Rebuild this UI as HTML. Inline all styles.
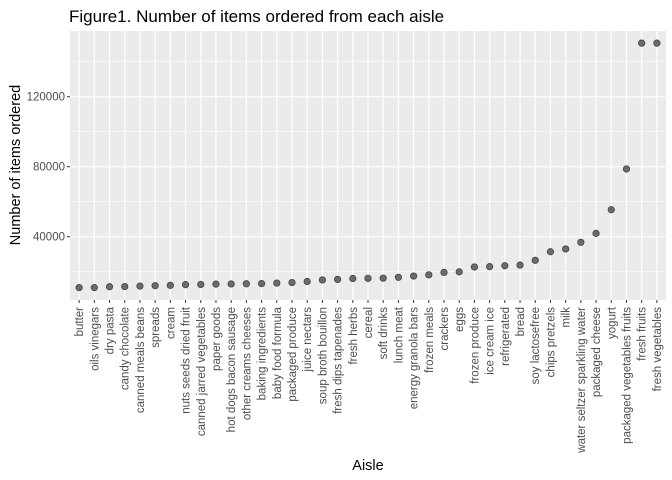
<!DOCTYPE html>
<html><head><meta charset="utf-8">
<style>
html,body{margin:0;padding:0;background:#fff;}
svg{display:block;font-family:"Liberation Sans",Arial,sans-serif;}
</style></head>
<body>
<svg id="chart" width="672" height="480" viewBox="0 0 672 480" xmlns="http://www.w3.org/2000/svg">
<text x="69" y="22" font-size="17" fill="#000">Figure1. Number of items ordered from each aisle</text>
<rect x="70" y="31" width="596" height="269" fill="#ebebeb"/>
<g id="grid"></g>
<g id="yaxis"></g>
<g id="xaxis"></g>
<g id="points"></g>
<text x="368" y="470" font-size="14.5" text-anchor="middle" fill="#000">Aisle</text>
<text transform="translate(20,165) rotate(-90)" font-size="14.5" text-anchor="middle" fill="#000">Number of items ordered</text>
</svg>
<script>
const categories = ["butter","oils vinegars","dry pasta","candy chocolate","canned meals beans","spreads","cream","nuts seeds dried fruit","canned jarred vegetables","paper goods","hot dogs bacon sausage","other creams cheeses","baking ingredients","baby food formula","packaged produce","juice nectars","soup broth bouillon","fresh dips tapenades","fresh herbs","cereal","soft drinks","lunch meat","energy granola bars","frozen meals","crackers","eggs","frozen produce","ice cream ice","refrigerated","bread","soy lactosefree","chips pretzels","milk","water seltzer sparkling water","packaged cheese","yogurt","packaged vegetables fruits","fresh fruits","fresh vegetables"];
const itemCounts = [10900,10900,11400,11500,11800,12000,12200,12600,12700,12900,13000,13100,13200,13500,13800,14400,15300,15600,16100,16200,16300,16800,17500,18200,19600,19900,22700,22900,23400,23800,26500,31400,33000,36800,41900,55400,78700,150600,150600];
const yTicks = [40000,80000,120000];
const yTickLabels = ["40000","80000","120000"];
const yMinor = [20000,60000,100000,140000];

const NS="http://www.w3.org/2000/svg";
const PL=70, PR=666, PT=31, PB=300;
const Y0=306.7, YPER=1.75/1000;
function yScale(v){return Y0 - v*YPER;}
const step=(PR-PL)/(categories.length-1+1.2);
function xScale(i){return PL + step*(0.6+i);}
function mk(tag,attrs,parent){const e=document.createElementNS(NS,tag);for(const k in attrs)e.setAttribute(k,attrs[k]);parent.appendChild(e);return e;}
const grid=document.getElementById('grid'), ya=document.getElementById('yaxis'), xa=document.getElementById('xaxis'), pts=document.getElementById('points');
yMinor.forEach(v=>{const l=mk('line',{x1:PL,x2:PR,y1:yScale(v),y2:yScale(v),stroke:'#fff','stroke-width':0.6},grid);

});
yTicks.forEach((v,i)=>{const y=yScale(v);
const l=mk('line',{x1:PL,x2:PR,y1:y,y2:y,stroke:'#fff','stroke-width':1.2},grid);


const t=mk('line',{x1:PL-3,x2:PL,y1:y,y2:y,stroke:'#333','stroke-width':1},ya);


const tx=mk('text',{x:PL-5,y:y+4,'font-size':11.5,'text-anchor':'end',fill:'#4d4d4d'},ya);
tx.textContent=yTickLabels[i];

});
categories.forEach((c,i)=>{const x=xScale(i);
const l=mk('line',{x1:x,x2:x,y1:PT,y2:PB,stroke:'#fff','stroke-width':1.2},grid);


const t=mk('line',{x1:x,x2:x,y1:PB,y2:PB+3,stroke:'#333','stroke-width':1},xa);


const tx=mk('text',{transform:`translate(${x+4},${PB+7}) rotate(-90)`,'font-size':11.5,'text-anchor':'end',fill:'#4d4d4d'},xa);
tx.textContent=c;


const p=mk('circle',{cx:x,cy:yScale(itemCounts[i]),r:3.2,fill:'#6b6b6b',stroke:'#444','stroke-width':0.8},pts);

});
</script>
</body></html>
